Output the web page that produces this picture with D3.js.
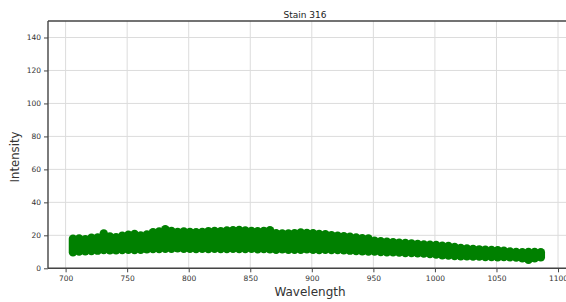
<!DOCTYPE html>
<html>
<head>
<meta charset="utf-8">
<script src="https://cdn.jsdelivr.net/npm/d3@7/dist/d3.min.js"></script>
<style>
  html, body { margin: 0; padding: 0; background: #fff; }
  svg { display: block; }
  text { font-family: "DejaVu Sans", sans-serif; }
</style>
</head>
<body>
<svg id="chart" width="566" height="302"></svg>
<script>
// ---- data ----
const title = "Stain 316";
const xLabel = "Wavelength";
const yLabel = "Intensity";
const xTicks = [700, 750, 800, 850, 900, 950, 1000, 1050, 1100];
const yTicks = [0, 20, 40, 60, 80, 100, 120, 140];

// sampled wavelengths of the dense scatter band
const wavelength = [706, 711, 716, 721, 726, 731, 736, 741, 746, 751, 756, 761, 766, 771, 776, 781,
  786, 791, 796, 801, 806, 811, 816, 821, 826, 831, 836, 841, 846, 851, 856, 861, 866, 871, 876,
  881, 886, 891, 896, 901, 906, 911, 916, 921, 926, 931, 936, 941, 946, 951, 956, 961, 966, 971,
  976, 981, 986, 991, 996, 1001, 1006, 1011, 1016, 1021, 1026, 1031, 1036, 1041, 1046, 1051, 1056,
  1061, 1066, 1071, 1076, 1081, 1086];
// upper envelope of intensity at each wavelength
const intensityHigh = [20.0, 20.2, 19.8, 20.6, 20.8, 23.2, 21.4, 21.0, 21.8, 22.4, 23.0, 22.0, 22.6,
  24.0, 24.4, 25.8, 24.8, 24.2, 24.4, 24.2, 24.0, 24.2, 24.6, 24.8, 24.6, 25.0, 25.2, 25.3, 25.0,
  24.8, 24.6, 24.8, 25.2, 23.4, 23.2, 23.2, 23.4, 23.8, 23.6, 23.4, 23.0, 22.8, 22.2, 21.8, 21.6,
  21.2, 20.8, 20.4, 20.2, 18.8, 18.6, 18.2, 17.9, 17.6, 17.4, 17.2, 16.9, 16.6, 16.4, 16.2, 15.8,
  15.6, 15.0, 14.5, 14.2, 13.9, 13.6, 13.4, 13.2, 13.1, 12.7, 12.3, 12.0, 11.9, 12.0, 12.0, 11.8];
// lower envelope of intensity at each wavelength
const intensityLow = [7.6, 8.0, 8.2, 8.4, 8.6, 9.0, 8.8, 8.8, 9.0, 9.2, 9.0, 9.2, 9.4, 9.6, 9.6, 9.8,
  9.8, 10.0, 9.8, 9.8, 9.6, 9.8, 9.6, 9.8, 9.6, 9.6, 9.8, 9.6, 9.6, 9.8, 9.4, 9.6, 9.4, 9.2, 9.4,
  9.2, 9.2, 9.2, 9.4, 9.2, 9.0, 9.2, 9.0, 9.0, 8.8, 8.6, 8.4, 8.2, 8.0, 8.0, 7.8, 7.6, 7.6, 7.4,
  7.2, 7.2, 7.0, 6.8, 6.6, 6.2, 5.8, 5.6, 5.4, 5.2, 5.2, 5.0, 5.0, 4.8, 4.8, 4.6, 4.8, 4.6, 4.4,
  4.0, 3.0, 4.0, 4.6];

// ---- layout ----
const svg = d3.select("#chart");
const mLeft = 48, mRight = 567.5, mTop = 21, mBottom = 268.3;

const x = d3.scaleLinear().domain([685.7, 1107.7]).range([mLeft, mRight]);
const y = d3.scaleLinear().domain([0, 150]).range([mBottom, mTop]);

// grid
const grid = svg.append("g");
grid.selectAll("line.vx").data(xTicks).join("line")
  .attr("x1", d => x(d)).attr("x2", d => x(d))
  .attr("y1", mTop).attr("y2", mBottom)
  .attr("stroke", "#dcdcdc").attr("stroke-width", 1);
grid.selectAll("line.hy").data(yTicks).join("line")
  .attr("x1", mLeft).attr("x2", mRight)
  .attr("y1", d => y(d)).attr("y2", d => y(d))
  .attr("stroke", "#dcdcdc").attr("stroke-width", 1);

// scatter band: each sample drawn as a dense column of markers (round-capped stroke)
const r = 3.5;
const band = wavelength.map((w, i) => ({ w, hi: intensityHigh[i], lo: intensityLow[i] }));
svg.append("g").selectAll("line").data(band).join("line")
  .attr("x1", d => x(d.w)).attr("x2", d => x(d.w))
  .attr("y1", d => y(d.hi) + r).attr("y2", d => y(d.lo) - r)
  .attr("stroke", "#008000")
  .attr("stroke-width", 2 * r + 1.5)
  .attr("stroke-linecap", "round");

// axes
const xAxis = svg.append("g").attr("transform", `translate(0,${mBottom})`)
  .call(d3.axisBottom(x).tickValues(xTicks).tickSize(4).tickPadding(3).tickFormat(d3.format("d")));
const yAxis = svg.append("g").attr("transform", `translate(${mLeft},0)`)
  .call(d3.axisLeft(y).tickValues(yTicks).tickSize(4).tickPadding(3).tickFormat(d3.format("d")));
[xAxis, yAxis].forEach(a => {
  a.select(".domain").remove();
  a.selectAll(".tick line").attr("stroke", "#444").attr("stroke-width", 1);
  a.selectAll(".tick text").attr("fill", "#333").style("font-size", "7.5px")
    .style("font-family", "DejaVu Sans, sans-serif");
});

// spines
const sp = svg.append("g").attr("fill", "none").attr("stroke", "#444").attr("stroke-width", 1.4);
sp.append("line").attr("x1", mLeft).attr("x2", mLeft).attr("y1", mTop).attr("y2", mBottom);
sp.append("line").attr("x1", mLeft).attr("x2", mRight).attr("y1", mBottom).attr("y2", mBottom);
sp.append("line").attr("x1", mLeft).attr("x2", mRight).attr("y1", mTop).attr("y2", mTop);
sp.append("line").attr("x1", mRight).attr("x2", mRight).attr("y1", mTop).attr("y2", mBottom);

// title and labels
svg.append("text").attr("x", 305).attr("y", 18).attr("text-anchor", "middle")
  .style("font-size", "9px").attr("fill", "#222").text(title);
svg.append("text").attr("x", 310).attr("y", 296).attr("text-anchor", "middle")
  .style("font-size", "12px").attr("fill", "#333").text(xLabel);
svg.append("text").attr("transform", "translate(19,157) rotate(-90)").attr("text-anchor", "middle")
  .style("font-size", "13px").style("font-family", "DejaVu Sans Condensed, DejaVu Sans, sans-serif")
  .style("font-stretch", "condensed")
  .attr("fill", "#333").text(yLabel);
</script>
</body>
</html>
